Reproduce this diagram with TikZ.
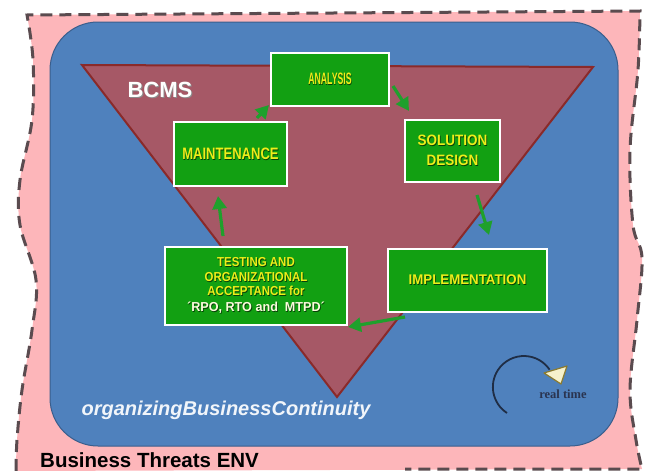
\documentclass[tikz,border=0pt]{standalone}
\usepackage{fontspec}
\setmainfont{Liberation Sans}
\newfontfamily\serifbf{Liberation Serif}
\usepackage{graphicx}
\usetikzlibrary{arrows.meta,calc}
\definecolor{pinkbg}{HTML}{FDB6BA}
\definecolor{dashc}{HTML}{5A4B4F}
\definecolor{bluebg}{HTML}{4F81BD}
\definecolor{blueedge}{HTML}{3A5E8C}
\definecolor{trifill}{HTML}{A65866}
\definecolor{triedge}{HTML}{8A2A2A}
\definecolor{boxgreen}{HTML}{12A012}
\definecolor{boxyellow}{HTML}{EEEE1A}
\definecolor{arrowgreen}{HTML}{1FA02C}
\definecolor{navy}{HTML}{1F2D45}
\definecolor{rtext}{HTML}{2A3450}
\definecolor{tipfill}{HTML}{F6F1CC}
\definecolor{tipedge}{HTML}{8A7A30}
\newcommand{\shd}[1]{\leavevmode\rlap{\kern0.8pt\raisebox{-0.8pt}{\color{black!60!boxgreen}#1}}#1}
\begin{document}
\begin{tikzpicture}[x=1pt,y=-1pt,
  box/.style={draw=white, line width=1.8pt, fill=boxgreen, inner sep=0pt,
    text=boxyellow, font=\bfseries, align=center},
  flow/.style={draw=arrowgreen, line width=3.2pt,
    -{Triangle[length=13pt,width=14pt]}},
  dashline/.style={draw=dashc, line width=3pt, dash pattern=on 12pt off 7pt},
  lbl/.style={inner sep=0pt}
]
\useasboundingbox (0,0) rectangle (646,471);

% outer environment shape
\fill[pinkbg] (27,15) -- plot[smooth,tension=0.6] coordinates {(640,11) (638,70) (630,150) (633,225) (642,258) (637,320) (630,390) (636,440) (642,469)}
  -- plot[smooth,tension=0.6] coordinates {(16,471) (17,440) (22,390) (32,330) (36,280) (20,225) (20,180) (32,120) (33,60) (27,15)} -- cycle;
\draw[dashline] plot[smooth,tension=0.6] coordinates {(16,471) (17,440) (22,390) (32,330) (36,280) (20,225) (20,180) (32,120) (33,60) (27,15)}
  -- plot[smooth,tension=0.6] coordinates {(640,11) (638,70) (630,150) (633,225) (642,258) (637,320) (630,390) (636,440) (642,469)}
  -- (405,469);

% blue organisation area
\draw[fill=bluebg, draw=blueedge, line width=1pt, rounded corners=48pt] (50,22) rectangle (618,446);

% BCMS triangle
\draw[fill=trifill, draw=triedge, line width=2pt, line join=miter] (82,65) -- (593,67) -- (337,397) -- cycle;

% labels
\node[lbl, text=black!45, font=\fontsize{22}{22}\selectfont\bfseries] at (161,91) {BCMS};
\node[lbl, text=white, font=\fontsize{22}{22}\selectfont\bfseries] (bcms) at (160,90) {BCMS};
\node[lbl, text=white!92!bluebg, font=\fontsize{20}{20}\selectfont\bfseries\itshape] (org) at (226,410) {organizingBusinessContinuity};
\node[lbl, anchor=base west, text=black, font=\fontsize{20.5}{20}\selectfont\bfseries] (env) at (40,467) {Business Threats ENV};

% process boxes
\node[box, minimum width=118pt, minimum height=53pt, font=\fontsize{16.5}{16}\selectfont\bfseries] (ana) at (330,79.5) {\scalebox{0.53}[1]{\shd{ANALYSIS}}};
\node[box, minimum width=95pt, minimum height=62pt, font=\fontsize{15}{20}\selectfont\bfseries] (sol) at (452.5,151) {\scalebox{0.9}[1]{\shd{SOLUTION}}\\\scalebox{0.9}[1]{\shd{DESIGN}}};
\node[box, minimum width=159pt, minimum height=63pt, font=\fontsize{14}{14}\selectfont\bfseries] (impl) at (467.5,280.5) {\scalebox{0.95}[1]{\shd{IMPLEMENTATION}}};
\node[box, minimum width=182pt, minimum height=78pt, font=\fontsize{13}{14.5}\selectfont\bfseries] (test) at (256,286)
  {\scalebox{0.88}[1]{\shd{TESTING AND}}\\\scalebox{0.88}[1]{\shd{ORGANIZATIONAL}}\\\scalebox{0.88}[1]{\shd{ACCEPTANCE for}}\\[1pt]{\color{white!85!boxyellow}\scalebox{0.97}[1]{\shd{´RPO, RTO and\ \ MTPD´}}}};
\node[box, minimum width=113pt, minimum height=64pt, font=\fontsize{16.5}{16}\selectfont\bfseries] (main) at (230.5,154) {\scalebox{0.79}[1]{\shd{MAINTENANCE}}};

% cycle arrows
\coordinate (a1s) at (393,86);  \coordinate (a1e) at (409,111);
\coordinate (a2s) at (477,195); \coordinate (a2e) at (489,235);
\coordinate (a3s) at (405,317); \coordinate (a3e) at (348,327);
\coordinate (a4s) at (223,236); \coordinate (a4e) at (218,196);
\coordinate (a5s) at (257,118); \coordinate (a5e) at (269,105);
\draw[flow] (a1s) -- (a1e);
\draw[flow] (a2s) -- (a2e);
\draw[flow] (a3s) -- (a3e);
\draw[flow] (a4s) -- (a4e);
\draw[flow] (a5s) -- (a5e);

% real time icon
\coordinate (rtc) at (523,388);
\draw[navy, line width=1.8pt] ($(rtc)+(-16,25)$) arc[start angle=123, end angle=326, radius=31];
\draw[fill=tipfill, draw=tipedge, line width=1.2pt, line join=round] (544,373) -- (567,366) -- (561,384) -- cycle;
\node[lbl, text=rtext, font=\serifbf\fontsize{12.5}{12}\selectfont\bfseries] (rt) at (563,394) {real time};
\end{tikzpicture}
\end{document}
